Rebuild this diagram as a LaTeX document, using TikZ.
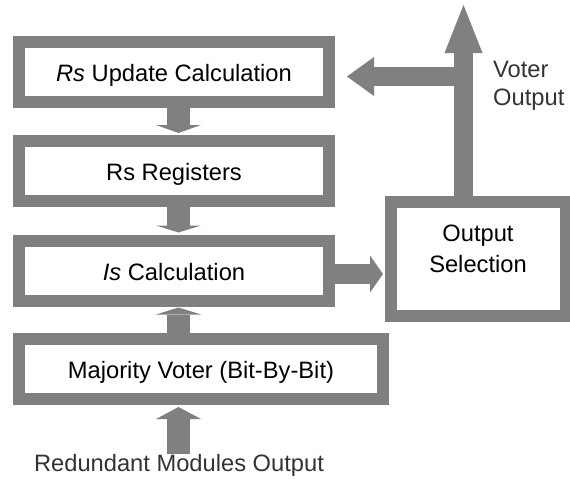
\documentclass[tikz,border=0pt]{standalone}
\usepackage{fontspec}
\setmainfont{Liberation Sans}
\usetikzlibrary{arrows.meta,calc}
\definecolor{blockgray}{HTML}{808080}
\definecolor{labelgray}{HTML}{333333}

\begin{document}
\begin{tikzpicture}[x=1pt, y=-1pt,
    font=\fontsize{23.7pt}{28pt}\selectfont,
    block/.style={draw=blockgray, line width=12pt, fill=white, inner sep=0pt,
      text height=19pt, text depth=0pt, minimum height=60pt},
    flow/.style={draw=blockgray, line cap=butt},
    head/.style 2 args={-{Triangle[width=#1, length=#2, line width=0pt]}}]
  \useasboundingbox (0,0) rectangle (570,479);
  \coordinate (spine) at (178.5,0);
  \coordinate (vo) at (463.5,5);
  \coordinate (split) at (463.5,76.5);

  \node[block, minimum width=310pt] (upd) at (174,72) {\textit{Rs} Update Calculation};
  \node[block, minimum width=310pt] (reg) at (174,171) {Rs Registers};
  \node[block, minimum width=310pt] (isc) at (174,270.5) {\textit{Is} Calculation};
  \node[block, minimum width=364pt] (maj) at (201,369) {Majority Voter (Bit-By-Bit)};
  \node[block, minimum width=175pt, minimum height=114pt] (sel) at (478.5,259) {};
  \node[align=center, inner sep=0pt, font=\fontsize{23.7pt}{31.6pt}\selectfont]
    (seltxt) at (478,248.9) {Output\\Selection};
  \node[labelgray, anchor=west, align=left, inner sep=0pt,
    font=\fontsize{23.7pt}{27.7pt}\selectfont] (vout) at (493,86) {Voter\\Output};
  \node[labelgray, anchor=base, inner sep=0pt] (rmo) at (179,471.7) {Redundant Modules Output};

  % data path through the voter
  \draw[flow, line width=23pt, head={45pt}{8pt}, shorten >=2pt] (upd.south -| spine) -- (reg.north -| spine);
  \draw[flow, line width=23pt, head={45pt}{7pt}, shorten >=2pt] (reg.south -| spine) -- (isc.north -| spine);
  \draw[flow, line width=23pt, head={45pt}{7pt}, shorten >=1pt] (maj.north -| spine) -- (isc.south -| spine);
  \draw[flow, line width=23pt, head={45pt}{12pt}, shorten >=2pt] (rmo.north -| spine) -- (maj.south -| spine);
  \draw[flow, line width=20pt, head={37pt}{13pt}, shorten >=2pt]
    ([yshift=-3.5pt]isc.east) -- ([yshift=-3.5pt]isc.east -| sel.west);
  \draw[flow, line width=19pt, head={38pt}{48pt}] (sel.north -| vo) -- (vo);
  \draw[flow, line width=19pt, head={39pt}{27pt}, shorten >=12pt] (split) -- (upd.east |- split);
\end{tikzpicture}
\end{document}
